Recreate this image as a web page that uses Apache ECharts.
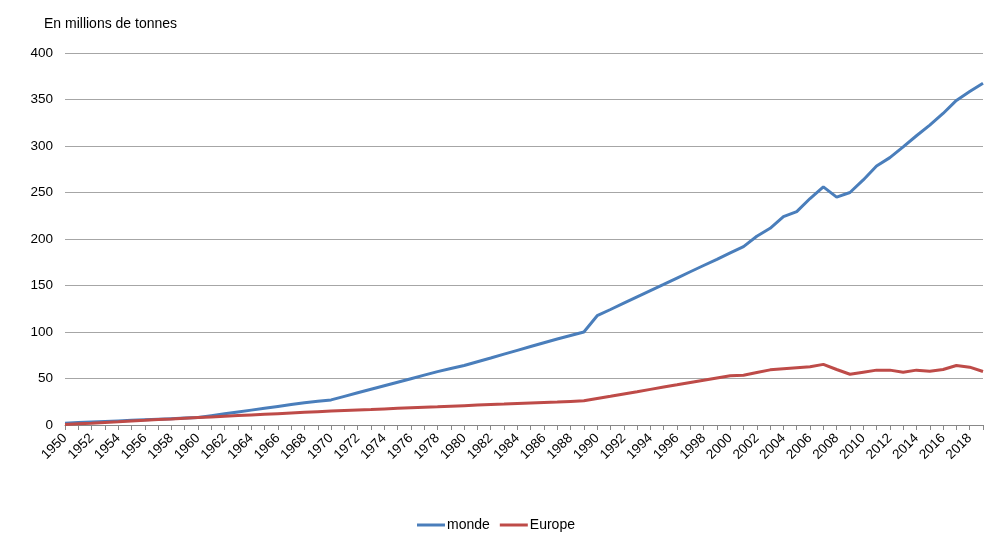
<!DOCTYPE html>
<html>
<head>
<meta charset="utf-8">
<script src="https://cdn.jsdelivr.net/npm/echarts@6/dist/echarts.min.js"></script>
<style>html,body{margin:0;padding:0;background:#fff}#c{width:1000px;height:546px}</style>
</head>
<body>
<div id="c"></div>
<script>
var years = [];
for (var y = 1950; y <= 2019; y++) years.push(String(y));

var monde = [
  2, 2.6, 3.2, 3.8, 4.4, 5, 5.6, 6.2, 6.8, 7.4,
  8, 10, 12, 14, 16, 18, 20, 22, 24, 25.5,
  27, 30.8, 34.6, 38.4, 42.2, 46, 49.8, 53.6, 57.4, 60.7,
  64, 68, 72, 76.2, 80.3, 84.4, 88.5, 92.4, 96.2, 100,
  117.5, 124.2, 131, 137.8, 144.5, 151.2, 158, 164.8, 171.5, 178.2,
  185, 191.8, 203, 211.5, 224, 229.5, 243.5, 256, 245, 250,
  263.5, 278.5, 287.5, 299, 311, 322.5, 335, 349, 358.5, 367.5
];

var europe = [
  0.5, 1.3, 2, 2.8, 3.5, 4.3, 5, 5.8, 6.5, 7.3,
  8, 8.7, 9.4, 10.1, 10.8, 11.5, 12.2, 12.9, 13.6, 14.3,
  15, 15.6, 16.2, 16.7, 17.3, 17.9, 18.5, 19.1, 19.6, 20.2,
  20.8, 21.4, 22, 22.5, 23.1, 23.7, 24.3, 24.8, 25.4, 26,
  28.5, 30.9, 33.4, 35.8, 38.3, 40.8, 43.2, 45.7, 48.1, 50.6,
  53, 53.5, 56.5, 59.3, 60.4, 61.5, 62.6, 65.2, 59.7, 54.6,
  56.8, 59, 59, 56.8, 59, 57.9, 59.7, 64, 62.2, 57.5
];

var yTicks = [0, 50, 100, 150, 200, 250, 300, 350, 400];

var chart = echarts.init(document.getElementById('c'), null, {renderer: 'canvas'});
var font = 'Liberation Sans, Arial, sans-serif';
chart.setOption({
  animation: false,
  textStyle: {fontFamily: font},
  title: {
    text: 'En millions de tonnes',
    left: 39, top: 12,
    textStyle: {fontSize: 14, fontWeight: 'normal', color: '#000', fontFamily: font}
  },
  grid: {left: 65, right: 17, top: 53, bottom: 121, containLabel: false},
  legend: {
    bottom: 9, left: 412,
    itemWidth: 28, itemHeight: 3, itemGap: 10,
    icon: 'rect',
    textStyle: {fontSize: 14, color: '#000', fontFamily: font, padding: [0, 0, 0, -3]},
    data: ['monde', 'Europe']
  },
  xAxis: {
    type: 'category',
    data: years,
    boundaryGap: false,
    axisLine: {show: true, lineStyle: {color: '#888', width: 1}},
    axisTick: {show: true, interval: 0, length: 5, lineStyle: {color: '#888'}},
    axisLabel: {interval: 1, rotate: 45, fontSize: 13.5, color: '#000', margin: 11, fontFamily: font, padding: [0, 0, 0, 0]},
    splitLine: {show: false}
  },
  yAxis: {
    type: 'value',
    min: yTicks[0], max: yTicks[yTicks.length - 1], interval: 50,
    axisLine: {show: false},
    axisTick: {show: false},
    axisLabel: {fontSize: 13.5, color: '#000', margin: 12, fontFamily: font},
    splitLine: {lineStyle: {color: '#a6a6a6', width: 1}}
  },
  series: [
    {
      name: 'monde', type: 'line', data: monde, symbol: 'none',
      lineStyle: {color: '#4a7ebb', width: 3},
      itemStyle: {color: '#4a7ebb'}
    },
    {
      name: 'Europe', type: 'line', data: europe, symbol: 'none',
      lineStyle: {color: '#be4b48', width: 3},
      itemStyle: {color: '#be4b48'}
    }
  ]
});
</script>
</body>
</html>
